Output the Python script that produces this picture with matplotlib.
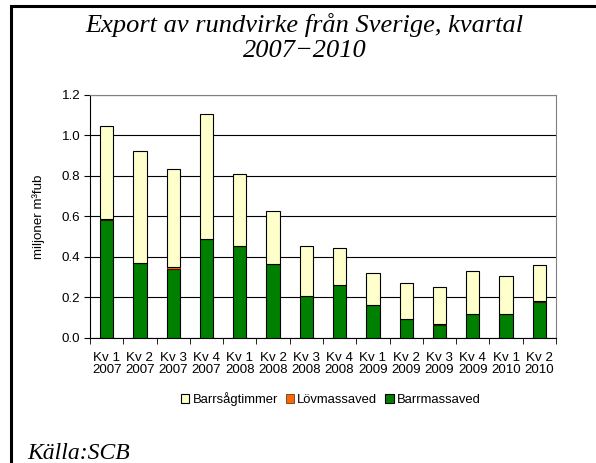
import matplotlib.pyplot as plt
import numpy as np
from matplotlib.patches import Rectangle

# Kvartal och exportvolymer (miljoner m3fub)
kvartal = ['Kv 1\n2007', 'Kv 2\n2007', 'Kv 3\n2007', 'Kv 4\n2007',
           'Kv 1\n2008', 'Kv 2\n2008', 'Kv 3\n2008', 'Kv 4\n2008',
           'Kv 1\n2009', 'Kv 2\n2009', 'Kv 3\n2009', 'Kv 4\n2009',
           'Kv 1\n2010', 'Kv 2\n2010']
barrmassaved = [0.581, 0.368, 0.340, 0.487, 0.452, 0.363, 0.205, 0.260,
                0.161, 0.092, 0.065, 0.117, 0.117, 0.179]
lovmassaved = [0.004, 0.004, 0.010, 0.004, 0.003, 0.003, 0.003, 0.003,
               0.003, 0.002, 0.002, 0.002, 0.002, 0.002]
barrsagtimmer = [0.464, 0.550, 0.485, 0.615, 0.355, 0.263, 0.248, 0.180,
                 0.159, 0.179, 0.183, 0.214, 0.187, 0.178]

plt.rcParams['font.family'] = ['Liberation Sans', 'DejaVu Sans']
fs = 9.6

fig = plt.figure(figsize=(5.96, 4.63), dpi=100)
ax = fig.add_axes([0.151, 0.270, 0.782, 0.525])

x = np.arange(len(kvartal))
w = 0.4
bottom2 = np.array(barrmassaved) + np.array(lovmassaved)
ax.bar(x, barrmassaved, w, color='#008000', edgecolor='black', linewidth=0.8,
       label='Barrmassaved', zorder=3)
ax.bar(x, lovmassaved, w, bottom=barrmassaved, color='#FF6600', edgecolor='black',
       linewidth=0.4, label='Lövmassaved', zorder=3)
ax.bar(x, barrsagtimmer, w, bottom=bottom2, color='#FFFFCC', edgecolor='black',
       linewidth=0.8, label='Barrsågtimmer', zorder=3)

ax.set_xlim(-0.5, len(kvartal) - 0.5)
ax.set_ylim(0, 1.2)
ax.set_yticks(np.arange(0, 1.21, 0.2))
ax.set_yticklabels(['%.1f' % v for v in np.arange(0, 1.21, 0.2)], fontsize=fs)
ax.set_xticks(x)
ax.set_xticklabels(kvartal, fontsize=fs, linespacing=1.05)
ax.tick_params(axis='x', length=0, pad=10)
ax.set_xticks(np.arange(-0.5, len(kvartal), 1), minor=True)
ax.tick_params(axis='x', which='minor', length=4, direction='out', color='black')
ax.tick_params(axis='y', length=4, direction='out', color='black', pad=3)
ax.yaxis.grid(True, color='black', linewidth=0.8, zorder=0)
ax.set_axisbelow(True)
for side in ['top', 'right']:
    ax.spines[side].set_color('#808080')
ax.spines['left'].set_color('black')
ax.spines['bottom'].set_color('black')
ax.set_ylabel('miljoner m³fub', fontsize=fs, labelpad=12)

handles, labels = ax.get_legend_handles_labels()
order = [2, 1, 0]
fig.legend([handles[i] for i in order], [labels[i] for i in order],
           loc='center', bbox_to_anchor=(0.555, 0.138), ncol=3, frameon=False,
           fontsize=9.4, handlelength=0.65, handleheight=0.65, handletextpad=0.25,
           columnspacing=0.6)

fig.text(0.511, 0.931, 'Export av rundvirke från Sverige, kvartal',
         ha='center', va='baseline', fontsize=19, family='Liberation Serif',
         style='italic')
fig.text(0.511, 0.877, '2007\u22122010',
         ha='center', va='baseline', fontsize=19, family='Liberation Serif',
         style='italic')
fig.text(0.045, 0.008, 'Källa:SCB', ha='left', va='baseline', fontsize=17,
         family='Liberation Serif', style='italic')

# ram runt diagrammet (vänster och övre kant syns)
fig.patches.append(Rectangle((0.019, -0.1), 1.1, 1.086, transform=fig.transFigure,
                             fill=False, edgecolor='black', linewidth=2.2))

fig.savefig('out.png', dpi=100)
